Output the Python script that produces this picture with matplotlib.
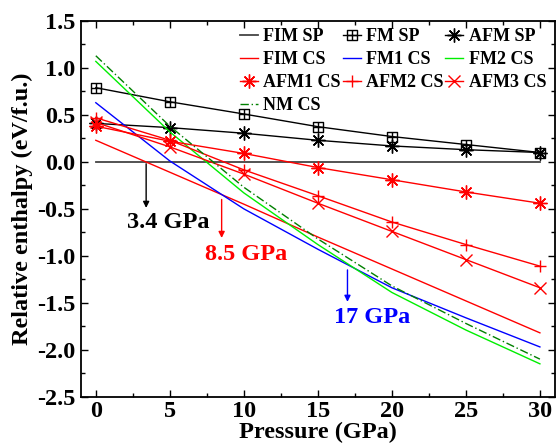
import numpy as np
import matplotlib
matplotlib.use("Agg")
import matplotlib.pyplot as plt
from matplotlib.path import Path
from matplotlib.ticker import MultipleLocator, FormatStrFormatter

plt.rcParams['font.family'] = ['Liberation Serif', 'DejaVu Serif']
plt.rcParams['font.weight'] = 'bold'
plt.rcParams['axes.unicode_minus'] = False

pressure = [0, 5, 10, 15, 20, 25, 30]
fim_sp = [0, 0, 0, 0, 0, 0, 0]
fm_sp = [0.79, 0.64, 0.51, 0.375, 0.27, 0.185, 0.10]
afm_sp = [0.41, 0.365, 0.305, 0.23, 0.17, 0.13, 0.10]
fim_cs = [0.23, -0.11, -0.45, -0.80, -1.14, -1.48, -1.82]
fm1_cs = [0.63, 0.01, -0.50, -0.93, -1.34, -1.66, -1.97]
fm2_cs = [1.07, 0.32, -0.33, -0.88, -1.39, -1.79, -2.15]
afm1_cs = [0.38, 0.22, 0.09, -0.06, -0.19, -0.32, -0.44]
afm2_cs = [0.47, 0.23, -0.085, -0.36, -0.64, -0.88, -1.11]
afm3_cs = [0.42, 0.16, -0.13, -0.44, -0.74, -1.04, -1.34]
nm_cs = [1.13, 0.38, -0.27, -0.82, -1.32, -1.72, -2.10]

transitions = [3.4, 8.5, 17]
transition_labels = ["3.4 GPa", "8.5 GPa", "17 GPa"]

fig = plt.figure(figsize=(5.56, 4.47), dpi=100)
ax = fig.add_axes([0.1457, 0.1125, 0.852, 0.8405])

# square with plus marker
sq_verts = [(-1, -1), (1, -1), (1, 1), (-1, 1), (-1, -1), (-1, 0), (1, 0), (0, -1), (0, 1)]
sq_codes = [Path.MOVETO, Path.LINETO, Path.LINETO, Path.LINETO, Path.CLOSEPOLY,
            Path.MOVETO, Path.LINETO, Path.MOVETO, Path.LINETO]
sqplus = Path(sq_verts, sq_codes)
ast = (8, 2, 0)

h = {}
h['FIM SP'], = ax.plot(pressure, fim_sp, color='#444444', lw=1.3)
h['FM SP'], = ax.plot(pressure, fm_sp, color='black', lw=1.0, marker=sqplus, ms=6.5, mfc='none', mec='black', mew=1.0)
h['AFM SP'], = ax.plot(pressure, afm_sp, color='black', lw=1.0, marker=ast, ms=10, mec='black', mew=1.0)
h['FIM CS'], = ax.plot(pressure, fim_cs, color='#ff0000', lw=1.0)
h['FM1 CS'], = ax.plot(pressure, fm1_cs, color='#0000ff', lw=1.0)
h['FM2 CS'], = ax.plot(pressure, fm2_cs, color='#00ee00', lw=1.0)
h['AFM1 CS'], = ax.plot(pressure, afm1_cs, color='#ff0000', lw=1.0, marker=ast, ms=10, mec='#ff0000', mew=1.0)
h['AFM2 CS'], = ax.plot(pressure, afm2_cs, color='#ff0000', lw=1.0, marker='+', ms=9, mec='#ff0000', mew=1.0)
h['AFM3 CS'], = ax.plot(pressure, afm3_cs, color='#ff0000', lw=1.0, marker='x', ms=8, mec='#ff0000', mew=1.0)
h['NM CS'], = ax.plot(pressure, nm_cs, color='#008000', lw=1.0, ls=(0, (6, 2, 1, 2)))

order = ['FIM SP', 'FIM CS', 'AFM1 CS', 'NM CS', 'FM SP', 'FM1 CS', 'AFM2 CS', 'AFM SP', 'FM2 CS', 'AFM3 CS']
ax.legend([h[k] for k in order], order, ncol=3, loc='upper right', frameon=False,
          prop={'family': 'Liberation Serif', 'weight': 'bold', 'size': 13},
          handlelength=1.0, handletextpad=0.3, columnspacing=0.1, labelspacing=0.33,
          bbox_to_anchor=(0.99, 0.99), borderaxespad=0.0, borderpad=0.2)

# transition arrows
arrow_cols = ['black', '#ff0000', '#0000ff']
arrow_y = [(-0.02, -0.49), (-0.40, -0.81), (-1.15, -1.49)]
label_pos = [(4.9, -0.64), (10.15, -0.99), (18.65, -1.66)]
for p, lab, c, (y0, y1), (lx, ly) in zip(transitions, transition_labels, arrow_cols, arrow_y, label_pos):
    ax.annotate('', xy=(p, y1), xytext=(p, y0),
                arrowprops=dict(arrowstyle='-|>', color=c, lw=1.0, mutation_scale=9, shrinkA=0, shrinkB=0))
    ax.text(lx, ly, lab, color=c, fontsize=17.5, fontweight='bold', ha='center', va='center')

ax.set_xlim(-1, 31)
ax.set_ylim(-2.5, 1.5)
ax.xaxis.set_major_locator(MultipleLocator(5))
ax.xaxis.set_minor_locator(MultipleLocator(2.5))
ax.yaxis.set_major_locator(MultipleLocator(0.5))
ax.yaxis.set_minor_locator(MultipleLocator(0.25))
ax.yaxis.set_major_formatter(FormatStrFormatter('%.1f'))
ax.tick_params(which='both', direction='in', top=True, right=True, width=1.0)
ax.tick_params(which='major', length=5, labelsize=17.5)
ax.tick_params(axis='x', which='major', pad=3)
ax.tick_params(axis='y', which='major', pad=4)
ax.tick_params(which='minor', length=3)
for lbl in ax.get_xticklabels() + ax.get_yticklabels():
    lbl.set_fontweight('bold')
for s in ax.spines.values():
    s.set_linewidth(1.3)

ax.set_xlabel('Pressure (GPa)', fontsize=17.5, fontweight='bold', labelpad=0)
ax.set_ylabel('Relative enthalpy (eV/f.u.)', fontsize=17.5, fontweight='bold', labelpad=3)

fig.savefig('out.png', dpi=100)
